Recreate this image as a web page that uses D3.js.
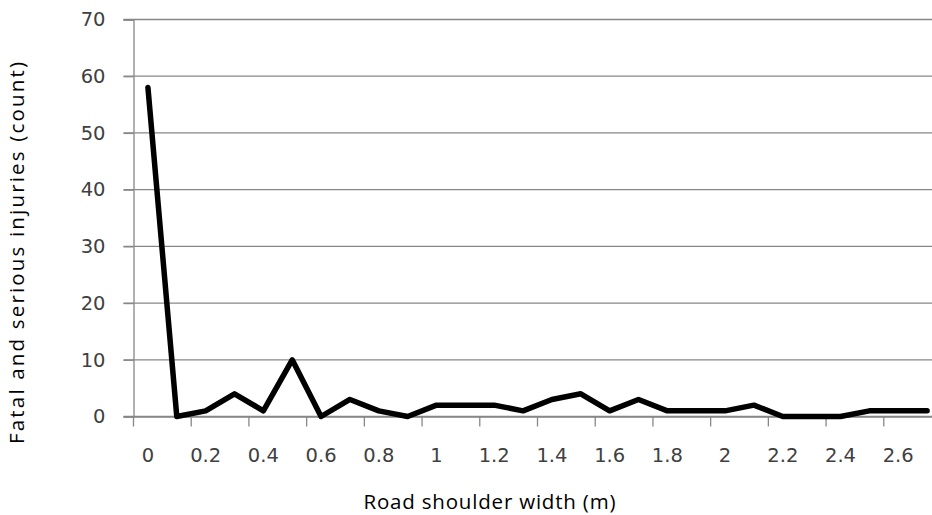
<!DOCTYPE html>
<html><head><meta charset="utf-8">
<script src="https://cdn.jsdelivr.net/npm/d3@7"></script>
<style>html,body{margin:0;padding:0;background:#fff;overflow:hidden}</style>
</head><body>
<svg id="chart" width="932" height="515"></svg>
<script>
const categories = ["0","0.1","0.2","0.3","0.4","0.5","0.6","0.7","0.8","0.9","1","1.1","1.2","1.3","1.4","1.5","1.6","1.7","1.8","1.9","2","2.1","2.2","2.3","2.4","2.5","2.6","2.7"];
const injuries = [58,0,1,4,1,10,0,3,1,0,2,2,2,1,3,4,1,3,1,1,1,2,0,0,0,1,1,1];
const xTickLabels = ["0","0.2","0.4","0.6","0.8","1","1.2","1.4","1.6","1.8","2","2.2","2.4","2.6"];
const yTicks = [0,10,20,30,40,50,60,70];
const xTitle = "Road shoulder width (m)";
const yTitle = "Fatal and serious injuries (count)";

const svg = d3.select("#chart");
const mLeft = 133.5, mRight = 941.5, mTop = 19.5, mBottom = 416.5;
const x = d3.scaleBand().domain(categories).range([mLeft, mRight]).padding(0);
const bw = x.bandwidth();
const y = d3.scaleLinear().domain([0, 70]).range([mBottom, mTop]);
const grid = "#878787";
const tickFont = "'DejaVu Sans', Verdana, sans-serif";

// gridlines
svg.append("g").selectAll("line").data(yTicks).join("line")
  .attr("x1", mLeft - 10).attr("x2", 932)
  .attr("y1", d => y(d)).attr("y2", d => y(d))
  .attr("stroke", grid).attr("stroke-width", 1.3);

// y axis
const yAxis = svg.append("g").attr("transform", `translate(${mLeft},0)`)
  .call(d3.axisLeft(y).tickValues(yTicks).tickSize(10).tickPadding(18).tickFormat(d3.format("d")));
yAxis.select(".domain").attr("stroke", grid).attr("stroke-width", 1.3);
yAxis.selectAll(".tick line").attr("stroke", grid).attr("stroke-width", 1.3);
yAxis.selectAll(".tick text").attr("font-family", tickFont).attr("font-size", 19.5).attr("fill", "#404040");

// x axis
const xAxis = svg.append("g").attr("transform", `translate(0,${mBottom})`)
  .call(d3.axisBottom(x).tickValues(xTickLabels).tickSize(10).tickSizeOuter(0));
xAxis.select(".domain").attr("stroke", grid).attr("stroke-width", 1.3);
xAxis.selectAll(".tick line").attr("stroke", grid).attr("stroke-width", 1.3)
  .attr("x1", -bw / 2).attr("x2", -bw / 2);
xAxis.selectAll(".tick text").attr("font-family", tickFont).attr("font-size", 19.5).attr("fill", "#404040")
  .attr("y", 45.5).attr("dy", 0);

// line
const line = d3.line().x((d, i) => x(categories[i]) + bw / 2).y(d => y(d));
svg.append("path").datum(injuries)
  .attr("d", line).attr("fill", "none").attr("stroke", "#000")
  .attr("stroke-width", 5.5).attr("stroke-linejoin", "round").attr("stroke-linecap", "round");

// titles
const titleFont = "'Open Sans', 'Noto Sans', sans-serif";
svg.append("text").attr("x", 489.5).attr("y", 509).attr("text-anchor", "middle")
  .attr("font-family", titleFont).attr("font-size", 20.5).attr("fill", "#000")
  .attr("textLength", 252).attr("lengthAdjust", "spacing").text(xTitle);
svg.append("text").attr("transform", "translate(24,253) rotate(-90)").attr("text-anchor", "middle")
  .attr("font-family", titleFont).attr("font-size", 20.5).attr("fill", "#000")
  .attr("textLength", 382).attr("lengthAdjust", "spacing").text(yTitle);
</script>
</body></html>
